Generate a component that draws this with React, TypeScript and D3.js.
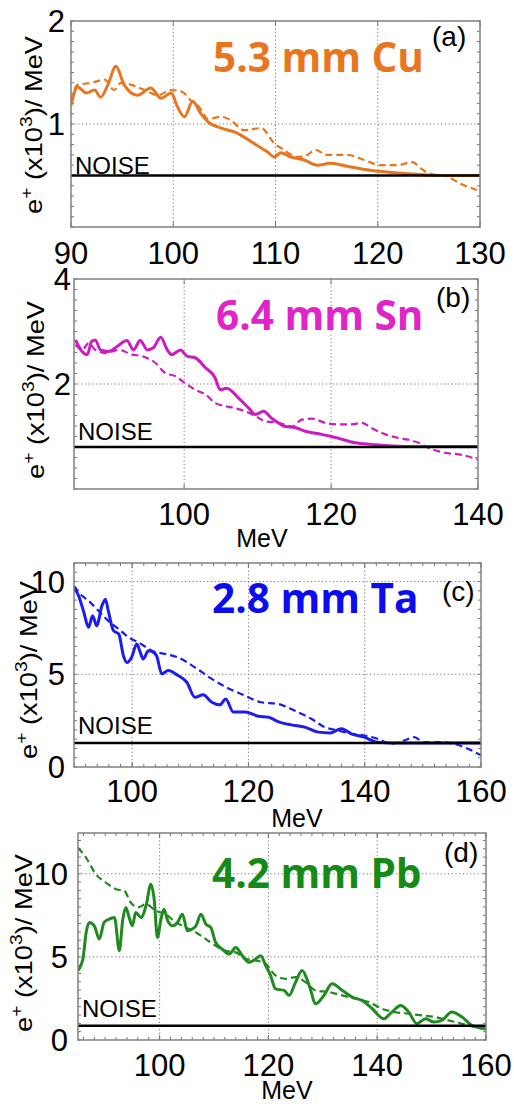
import React from "react";
import * as d3 from "d3";

// e+ spectra, [MeV, counts x10^3 / MeV]
const cuSolid: [number, number][] = [
  [90, 1.18], [90.65, 1.36], [91.5, 1.3], [92.3, 1.33], [92.9, 1.26], [93.6, 1.38], [94.4, 1.56],
  [95.2, 1.38], [96.5, 1.28], [97.8, 1.35], [98.8, 1.25], [99.8, 1.3], [100.4, 1.17], [101.1, 1.07],
  [101.9, 1.22], [102.7, 1.1], [103.4, 1.02], [104.7, 0.96], [106.3, 0.91], [107.9, 0.81], [109.2, 0.73],
  [109.9, 0.68], [110.5, 0.72], [111.5, 0.68], [112.8, 0.65], [114.1, 0.6], [115.4, 0.62], [117, 0.59],
  [119.3, 0.55], [122.6, 0.52], [125.8, 0.5], [130, 0.5],
];
const cuDashed: [number, number][] = [
  [90, 1.23], [90.65, 1.38], [92, 1.4], [93.3, 1.43], [94.2, 1.33], [94.9, 1.4], [95.9, 1.38],
  [97.2, 1.33], [98.5, 1.28], [99.8, 1.33], [100.9, 1.31], [101.7, 1.23], [102.5, 1.17], [103.4, 1.05],
  [104.7, 1.07], [105.6, 1.04], [106.9, 0.94], [108.6, 0.96], [109.9, 0.81], [110.8, 0.75], [112.1, 0.68],
  [113.1, 0.7], [113.9, 0.75], [115, 0.7], [117, 0.7], [118.7, 0.65], [120.3, 0.6], [121.9, 0.6],
  [123.4, 0.63], [124.2, 0.57], [125, 0.52], [126.8, 0.49], [128.1, 0.42], [129.7, 0.36],
];

const snSolid: [number, number][] = [
  [85.2, 2.84], [86.1, 2.62], [86.8, 2.56], [87.4, 2.81], [87.9, 2.84], [88.6, 2.65], [89.7, 2.62],
  [90.9, 2.72], [92.2, 2.83], [93.1, 2.65], [94, 2.83], [95, 2.65], [95.8, 2.69], [96.8, 2.89],
  [97.7, 2.65], [98.3, 2.56], [99.5, 2.65], [100.4, 2.53], [101.5, 2.5], [102.9, 2.31], [104.2, 2.12],
  [104.9, 1.89], [105.8, 1.92], [107.4, 1.73], [108.8, 1.54], [109.7, 1.42], [110.8, 1.48], [111.9, 1.35],
  [113.8, 1.19], [115.1, 1.17], [116.5, 1.1], [118.7, 1.04], [120.6, 0.98], [123.3, 0.88], [125.5, 0.85],
  [130.1, 0.81], [140, 0.81],
];
const snDashed: [number, number][] = [
  [85.2, 2.75], [86.1, 2.65], [87, 2.78], [87.9, 2.65], [89.3, 2.59], [91.1, 2.65], [92.9, 2.56],
  [94.3, 2.53], [96.1, 2.4], [97.4, 2.21], [98.8, 2.15], [100.1, 2.02], [101.5, 1.89], [102.9, 1.8],
  [104.2, 1.64], [105.6, 1.58], [106.9, 1.54], [108.3, 1.48], [109.7, 1.39], [111, 1.29], [112.9, 1.26],
  [114.7, 1.19], [116, 1.32], [117.4, 1.34], [119.2, 1.26], [121, 1.23], [122.8, 1.23], [124.2, 1.26],
  [125.5, 1.16], [127.4, 1.04], [129.2, 0.97], [130.5, 0.94], [131.9, 0.88], [133.3, 0.78], [135.5, 0.69],
  [137.8, 0.65], [140, 0.56],
];

const taSolid: [number, number][] = [
  [90, 9.68], [90.8, 9.23], [91.7, 8.33], [92.5, 7.53], [93.2, 8.15], [93.9, 7.62], [94.8, 8.69],
  [95.4, 9.05], [95.9, 8.42], [96.8, 7.35], [97.7, 7.17], [98.5, 6.0], [99.1, 5.64], [99.9, 5.91],
  [100.8, 6.63], [101.4, 6.18], [101.9, 5.82], [102.8, 6.27], [103.7, 6.18], [104.2, 6.0], [105.1, 5.02],
  [106.2, 5.2], [107.9, 4.93], [109.4, 4.57], [110.8, 3.76], [112.2, 3.89], [113.7, 3.49], [115.1, 3.35],
  [116.1, 3.67], [117.4, 2.96], [119.4, 2.96], [121.7, 2.74], [123.4, 2.69], [125.1, 2.45], [127.4, 2.27],
  [129.7, 2.15], [132, 1.88], [134, 1.84], [136, 2.06], [137.7, 1.79], [139.9, 1.61], [142.2, 1.34],
  [146.8, 1.29], [160, 1.29],
];
const taDashed: [number, number][] = [
  [90, 9.77], [91.4, 9.23], [92.5, 8.96], [94.2, 8.42], [95.9, 7.88], [97.7, 7.44], [99.4, 6.99],
  [101.1, 6.72], [103.4, 6.27], [105.7, 6.09], [107.9, 5.91], [110.8, 5.37], [113.7, 4.75], [116.5, 4.25],
  [119.4, 3.85], [122.2, 3.49], [125.1, 3.4], [127.9, 3.05], [130.8, 2.6], [133.1, 2.15], [135.4, 1.97],
  [137.7, 1.79], [139.9, 1.7], [142.2, 1.52], [144.5, 1.25], [146.8, 1.43], [148.5, 1.61], [150.2, 1.34],
  [152.5, 1.34], [155.4, 1.25], [157.1, 1.07], [160, 0.63],
];

const pbSolid: [number, number][] = [
  [85, 4.18], [85.9, 4.87], [86.5, 6.47], [87.1, 7.07], [88, 6.87], [88.9, 6.07], [89.8, 7.07],
  [90.7, 7.27], [91.7, 7.37], [92.6, 5.37], [93.2, 7.17], [93.8, 7.97], [94.4, 7.37], [95, 6.87],
  [95.6, 7.67], [96.6, 7.37], [97.5, 8.07], [98.4, 9.37], [99, 8.47], [99.6, 6.17], [100.2, 7.17],
  [100.8, 7.87], [101.5, 7.17], [102.4, 6.87], [103.3, 7.07], [104.2, 7.57], [105.1, 6.57], [106, 6.67],
  [106.7, 6.87], [107.6, 7.57], [108.5, 6.97], [109.4, 6.77], [110.3, 5.87], [111.5, 5.47], [112.8, 5.17],
  [114, 5.57], [115.2, 5.07], [116.4, 4.68], [117.7, 4.88], [118.6, 5.07], [119.5, 4.48], [120.4, 3.88],
  [121.3, 3.08], [122.9, 2.98], [123.8, 2.68], [125, 3.48], [126.2, 4.18], [127.5, 3.28], [128.7, 2.18],
  [130.2, 2.68], [131.7, 3.38], [133.6, 2.98], [135.4, 2.58], [137.2, 2.38], [139.1, 1.88], [141.2, 1.28],
  [142.7, 1.68], [144.3, 2.08], [145.8, 1.68], [147.3, 0.98], [148.9, 1.28], [150.4, 1.08], [151.9, 1.18],
  [153.7, 1.68], [155.6, 1.38], [157.4, 0.88], [159.9, 0.68],
];
const pbDashed: [number, number][] = [
  [85, 11.56], [86.5, 10.96], [88.3, 9.96], [90.1, 9.47], [92, 9.07], [93.5, 8.97], [94.7, 8.27],
  [96, 7.97], [97.5, 8.17], [99.3, 7.77], [101.1, 7.57], [103, 7.07], [104.8, 6.77], [106.7, 6.47],
  [108.5, 6.07], [110.3, 5.67], [112.2, 5.37], [114, 5.27], [115.8, 4.88], [117.7, 4.78], [119.5, 4.58],
  [121.3, 3.88], [123.2, 3.68], [125, 3.78], [126.8, 3.48], [128.7, 2.98], [131.1, 2.88], [133.6, 2.68],
  [136, 2.48], [138.5, 2.28], [140.9, 1.88], [143.3, 1.68], [145.8, 1.58], [148.2, 1.48], [150.7, 1.38],
  [153.1, 1.18], [155.6, 0.98], [157.4, 0.82], [159.9, 0.64],
];

const noiseLevels = [0.5, 0.8, 1.3, 0.85];
const titles = ["5.3 mm Cu", "6.4 mm Sn", "2.8 mm Ta", "4.2 mm Pb"];
const tags = ["(a)", "(b)", "(c)", "(d)"];

const panels = [
  {
    box: { l: 71, r: 480, t: 21, b: 227 }, x: [90, 130], y: [0, 2],
    xTicks: [90, 100, 110, 120, 130], yTicks: [1, 2], xMinor: 0, yMinor: 0.1,
    solid: cuSolid, dashed: cuDashed, line: "#e8761f", titleColor: "#e8761f",
    yLab: [33, 125], yTickEnd: 65, xLabBase: 264, mev: null as null | number[],
    title: [213, 72], tag: [432, 46], noiseDy: 2,
  },
  {
    box: { l: 74, r: 478, t: 279, b: 489 }, x: [85, 140], y: [0, 4],
    xTicks: [100, 120, 140], yTicks: [2, 4], xMinor: 0, yMinor: 0.2,
    solid: snSolid, dashed: snDashed, line: "#cc1cc0", titleColor: "#e024c8",
    yLab: [35, 390], yTickEnd: 71, xLabBase: 525, mev: [262, 547],
    title: [216, 330], tag: [436, 307], noiseDy: 7,
  },
  {
    box: { l: 74, r: 481, t: 563, b: 767 }, x: [90, 160], y: [0, 11],
    xTicks: [100, 120, 140, 160], yTicks: [0, 5, 10], xMinor: 2, yMinor: 0.5,
    solid: taSolid, dashed: taDashed, line: "#1c1cf2", titleColor: "#0c0cf0",
    yLab: [28, 670], yTickEnd: 65, xLabBase: 802, mev: [297, 827],
    title: [212, 613], tag: [442, 601], noiseDy: 9,
  },
  {
    box: { l: 78, r: 486, t: 833, b: 1040 }, x: [85, 160], y: [0, 12.45],
    xTicks: [100, 120, 140, 160], yTicks: [0, 5, 10], xMinor: 2, yMinor: 0.5,
    solid: pbSolid, dashed: pbDashed, line: "#1f8a1f", titleColor: "#168a16",
    yLab: [23, 943], yTickEnd: 68, xLabBase: 1076, mev: [287, 1099],
    title: [212, 888], tag: [444, 862], noiseDy: 9,
  },
];

const axisFont = "'Liberation Sans', Arial, Helvetica, sans-serif";

function Panel({ p, i }: { p: (typeof panels)[number]; i: number }) {
  const { box } = p;
  const xs = d3.scaleLinear().domain(p.x).range([box.l, box.r]);
  const ys = d3.scaleLinear().domain(p.y).range([box.b, box.t]);
  const line = d3
    .line<[number, number]>()
    .x((d) => xs(d[0]))
    .y((d) => ys(d[1]))
    .curve(d3.curveMonotoneX);
  const noise = noiseLevels[i];
  const clipId = `clip${i}`;

  const yMinorTicks = d3.range(p.y[0], p.y[1] + 1e-9, p.yMinor);
  const xMinorTicks = p.xMinor ? d3.range(Math.ceil(p.x[0] / p.xMinor) * p.xMinor, p.x[1] + 1e-9, p.xMinor) : [];
  const gridX = p.xTicks.filter((t) => t > p.x[0] && t < p.x[1]);
  const gridY = p.yTicks.filter((t) => t > p.y[0] && t < p.y[1]);

  return (
    <g>
      <defs>
        <clipPath id={clipId}>
          <rect x={box.l} y={box.t} width={box.r - box.l} height={box.b - box.t} />
        </clipPath>
      </defs>
      <rect x={box.l} y={box.t} width={box.r - box.l} height={box.b - box.t} fill="white" />
      {/* grid */}
      {gridX.map((t) => (
        <line key={"gx" + t} x1={xs(t)} x2={xs(t)} y1={box.t} y2={box.b} stroke="#777" strokeWidth={1} strokeDasharray="1.2,2.5" />
      ))}
      {gridY.map((t) => (
        <line key={"gy" + t} x1={box.l} x2={box.r} y1={ys(t)} y2={ys(t)} stroke="#777" strokeWidth={1} strokeDasharray="1.2,2.5" />
      ))}
      {/* ticks */}
      {yMinorTicks.map((t, k) => (
        <g key={"ym" + k} stroke="#777" strokeWidth={1}>
          <line x1={box.l} x2={box.l + 3} y1={ys(t)} y2={ys(t)} />
          <line x1={box.r} x2={box.r - 3} y1={ys(t)} y2={ys(t)} />
        </g>
      ))}
      {xMinorTicks.map((t, k) => (
        <g key={"xm" + k} stroke="#777" strokeWidth={1}>
          <line x1={xs(t)} x2={xs(t)} y1={box.b} y2={box.b - 3} />
          <line x1={xs(t)} x2={xs(t)} y1={box.t} y2={box.t + 3} />
        </g>
      ))}
      {p.xTicks.map((t) => (
        <g key={"xt" + t} stroke="#777" strokeWidth={1}>
          <line x1={xs(t)} x2={xs(t)} y1={box.b} y2={box.b - 5} />
          <line x1={xs(t)} x2={xs(t)} y1={box.t} y2={box.t + 5} />
        </g>
      ))}
      {/* data */}
      <g clipPath={`url(#${clipId})`}>
        <path d={line(p.dashed) || ""} fill="none" stroke={p.line} strokeWidth={2.2} strokeDasharray="7,4" strokeLinejoin="round" />
        <path d={line(p.solid) || ""} fill="none" stroke={p.line} strokeWidth={3} strokeLinejoin="round" />
        <line x1={box.l} x2={box.r} y1={ys(noise)} y2={ys(noise)} stroke="#000" strokeWidth={2.5} />
      </g>
      <rect x={box.l} y={box.t} width={box.r - box.l} height={box.b - box.t} fill="none" stroke="#808080" strokeWidth={1.5} />
      <text x={box.l + 4} y={ys(noise) - p.noiseDy} fontFamily={axisFont} fontSize={24}>NOISE</text>
      {/* tick labels */}
      {p.xTicks.map((t) => (
        <text key={"xl" + t} x={xs(t)} y={p.xLabBase} textAnchor="middle" fontFamily={axisFont} fontSize={31}>{t}</text>
      ))}
      {p.yTicks.map((t) => (
        <text key={"yl" + t} x={p.yTickEnd} y={ys(t)} dy="0.36em" textAnchor="end" fontFamily={axisFont} fontSize={31}>{t}</text>
      ))}
      {p.mev && (
        <text x={p.mev[0]} y={p.mev[1]} textAnchor="middle" fontFamily={axisFont} fontSize={25}>MeV</text>
      )}
      <text
        transform={`translate(${p.yLab[0]},${p.yLab[1]}) rotate(-90)`}
        textAnchor="middle"
        dy="0.36em"
        fontFamily={axisFont}
        fontSize={24}
        textLength={178}
        lengthAdjust="spacingAndGlyphs"
      >
        e<tspan fontSize={17} dy={-10}>+</tspan><tspan dy={10}> (x10</tspan><tspan fontSize={17} dy={-10}>3</tspan><tspan dy={10}>)/ MeV</tspan>
      </text>
      <text x={p.title[0]} y={p.title[1]} fill={p.titleColor} fontFamily="'Open Sans', 'Noto Sans', sans-serif" fontWeight={700} fontSize={40.5}>
        {titles[i]}
      </text>
      <text x={p.tag[0]} y={p.tag[1]} fontFamily={axisFont} fontSize={28}>{tags[i]}</text>
    </g>
  );
}

export default function App() {
  return (
    <svg width={514} height={1104} style={{ position: "absolute", left: 0, top: 0, background: "white" }}>
      {panels.map((p, i) => (
        <Panel key={i} p={p} i={i} />
      ))}
    </svg>
  );
}
